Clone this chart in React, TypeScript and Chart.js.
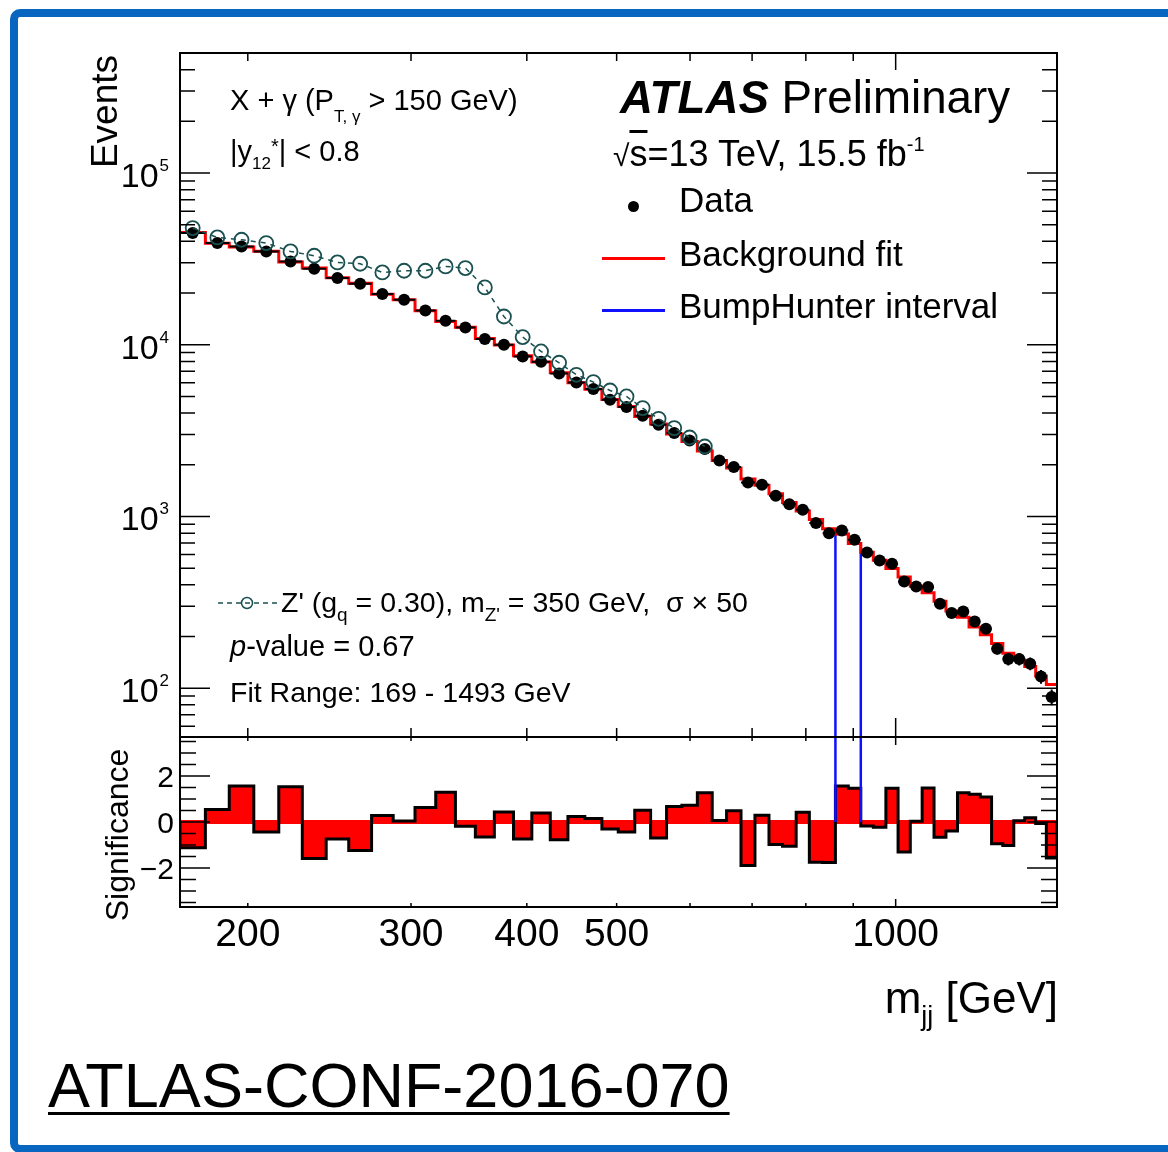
import React, { useEffect, useRef } from "react";
import { Chart, registerables } from "chart.js";

Chart.register(...registerables);

const FONT = '"Liberation Sans", Arial, Helvetica, sans-serif';

// ---------------- data ----------------
const binEdges = [
  169, 180, 191, 203, 216, 229, 243, 257, 272, 287, 303, 319, 335, 352, 369, 387, 405, 424, 443, 462,
  482, 502, 523, 544, 566, 588, 611, 634, 657, 681, 705, 730, 755, 781, 807, 834, 861, 889, 917, 946,
  976, 1006, 1037, 1068, 1100, 1133, 1166, 1200, 1234, 1269, 1305, 1341, 1378, 1416, 1454, 1493,
];

const dataEvents = [
  44740, 39110, 37370, 34950, 30560, 27710, 24460, 22660, 19740, 18290, 15840, 13800, 12610, 10800,
  10000, 8550, 7960, 6813, 6031, 5521, 4783, 4337, 3859, 3421, 3060, 2771, 2469, 2119, 1940, 1578,
  1530, 1320, 1178, 1094, 915, 800, 829, 732, 617, 554, 530, 418, 391, 388, 310, 274, 280, 245, 222,
  170, 148, 148, 139, 117, 89,
];

const fitEvents = [
  44980, 39000, 37070, 35030, 30290, 27980, 24580, 22850, 19700, 18285, 15760, 13650, 12630, 10870,
  9956, 8618, 7925, 6877, 6012, 5510, 4804, 4366, 3827, 3462, 3022, 2733, 2406, 2116, 1918, 1653,
  1519, 1356, 1205, 1078, 962, 848, 790, 697, 620, 557, 498, 445, 392, 360, 321, 282, 259, 227, 205,
  182, 160, 146, 134, 118, 105,
];

// Z' (gq = 0.30), m = 350 GeV, sigma x 50  (first 27 bins)
const signalEvents = [
  47830, 42160, 40880, 39110, 34950, 32990, 30150, 29630, 26370, 26980, 26980, 28580, 27970, 21570,
  14610, 11090, 9141, 7855, 6687, 6064, 5417, 5000, 4280, 3707, 3272, 2885, 2557,
];

const significance = [
  -1.12, 0.54, 1.57, -0.44, 1.53, -1.59, -0.74, -1.24, 0.28, 0.04, 0.63, 1.3, -0.19, -0.65, 0.44,
  -0.74, 0.39, -0.77, 0.24, 0.15, -0.31, -0.44, 0.51, -0.7, 0.68, 0.73, 1.27, 0.07, 0.49, -1.89,
  0.29, -0.98, -1.06, 0.42, -1.75, -1.76, 1.57, 1.47, -0.17, -0.23, 1.47, -1.31, 0.03, 1.48, -0.66,
  -0.39, 1.27, 1.21, 1.09, -0.95, -1.02, 0.05, 0.19, -0.07, -1.57,
];

const bumpInterval = [861, 917];

const xTickLabels = [200, 300, 400, 500, 1000];
const xTickMarks = [200, 300, 400, 500, 600, 700, 800, 900, 1000];
const yDecades = [100, 1000, 10000, 100000];
const sigTickLabels = [-2, 0, 2];

// ---------------- layout / style ----------------
const X_MIN = 169;
const X_MAX = 1493;
const Y_MIN = 52;
const Y_MAX = 5e5;
const S_MIN = -3.7;
const S_MAX = 3.7;

const PAGE_W = 1168;
const PAGE_H = 1152;
const AREA = { left: 180, right: 1057, top: 53, mid: 737, bottom: 907 };
const MAIN_H = 760;
const SIG_TOP = 700;
const SIG_H = 300;

const TEAL = "#1a5050";
const RED = "#ff0000";
const BLUE = "#1010ff";

const center = (i: number) => Math.sqrt(binEdges[i] * binEdges[i + 1]);

function stepPoints(values: number[]) {
  const pts: { x: number; y: number }[] = [];
  values.forEach((v, i) => {
    pts.push({ x: binEdges[i], y: v });
    pts.push({ x: binEdges[i + 1], y: v });
  });
  return pts;
}

const mainAxesPlugin = {
  id: "mainAxes",
  afterDraw(chart: any) {
    const { ctx, chartArea: a } = chart;
    const xs = chart.scales.x;
    const ys = chart.scales.y;
    ctx.save();
    ctx.strokeStyle = "#000";
    ctx.lineWidth = 1.5;
    ctx.beginPath();
    for (const t of xTickMarks) {
      const px = xs.getPixelForValue(t);
      const major = t === 1000;
      ctx.moveTo(px, a.top);
      ctx.lineTo(px, a.top + (major ? 17 : 8));
      ctx.moveTo(px, a.bottom);
      ctx.lineTo(px, a.bottom - (major ? 19 : 9));
    }
    for (const d of [10, ...yDecades]) {
      for (let k = 1; k <= 9; k++) {
        const v = k * d;
        if (v <= Y_MIN || v >= Y_MAX) continue;
        const py = ys.getPixelForValue(v);
        const len = k === 1 ? 30 : 15;
        ctx.moveTo(a.left, py);
        ctx.lineTo(a.left + len, py);
        ctx.moveTo(a.right, py);
        ctx.lineTo(a.right - len, py);
      }
    }
    ctx.stroke();
    ctx.lineWidth = 2;
    ctx.strokeRect(a.left, a.top, a.right - a.left, a.bottom - a.top);

    // y tick labels 10^n
    ctx.fillStyle = "#000";
    ctx.textBaseline = "alphabetic";
    ctx.textAlign = "right";
    for (const d of yDecades) {
      const py = ys.getPixelForValue(d);
      const exp = String(Math.round(Math.log10(d)));
      ctx.font = `17px ${FONT}`;
      const sw = ctx.measureText(exp).width;
      ctx.fillText(exp, a.left - 11, py - 2);
      ctx.font = `34px ${FONT}`;
      ctx.fillText("10", a.left - 11 - sw - 1, py + 14);
    }

    // legend markers
    ctx.fillStyle = "#000";
    ctx.beginPath();
    ctx.arc(633.5, 206.5, 5.5, 0, Math.PI * 2);
    ctx.fill();
    ctx.lineWidth = 3;
    ctx.strokeStyle = RED;
    ctx.beginPath();
    ctx.moveTo(602, 258.5);
    ctx.lineTo(665, 258.5);
    ctx.stroke();
    ctx.strokeStyle = BLUE;
    ctx.beginPath();
    ctx.moveTo(602, 310.5);
    ctx.lineTo(665, 310.5);
    ctx.stroke();
    // Z' legend sample
    ctx.strokeStyle = TEAL;
    ctx.lineWidth = 1.5;
    ctx.setLineDash([5, 4]);
    ctx.beginPath();
    ctx.moveTo(218, 603);
    ctx.lineTo(277, 603);
    ctx.stroke();
    ctx.setLineDash([]);
    ctx.beginPath();
    ctx.arc(247, 603, 5.5, 0, Math.PI * 2);
    ctx.stroke();
    ctx.restore();
  },
};

const sigAxesPlugin = {
  id: "sigAxes",
  afterDraw(chart: any) {
    const { ctx, chartArea: a } = chart;
    const xs = chart.scales.x;
    const ys = chart.scales.y;
    ctx.save();
    ctx.strokeStyle = "#000";
    ctx.lineWidth = 1.5;
    ctx.beginPath();
    for (const t of xTickMarks) {
      const px = xs.getPixelForValue(t);
      const major = t === 1000;
      ctx.moveTo(px, a.top);
      ctx.lineTo(px, a.top + (major ? 8 : 4));
      ctx.moveTo(px, a.bottom);
      ctx.lineTo(px, a.bottom - (major ? 8 : 4));
    }
    for (let i = -7; i <= 7; i++) {
      const v = i * 0.5;
      const py = ys.getPixelForValue(v);
      const len = sigTickLabels.includes(v) ? 30 : 16;
      ctx.moveTo(a.left, py);
      ctx.lineTo(a.left + len, py);
      ctx.moveTo(a.right, py);
      ctx.lineTo(a.right - len, py);
    }
    ctx.stroke();
    ctx.lineWidth = 2;
    ctx.strokeRect(a.left, a.top, a.right - a.left, a.bottom - a.top);

    ctx.fillStyle = "#000";
    ctx.textBaseline = "alphabetic";
    ctx.textAlign = "right";
    ctx.font = `30px ${FONT}`;
    for (const v of sigTickLabels) {
      const py = ys.getPixelForValue(v);
      const txt = v < 0 ? "\u2212" + Math.abs(v) : String(v);
      ctx.fillText(txt, a.left - 6, py + 11);
    }
    ctx.textAlign = "center";
    ctx.font = `39px ${FONT}`;
    for (const t of xTickLabels) {
      const px = xs.getPixelForValue(t);
      ctx.fillText(String(t), px, a.bottom + 39);
    }
    ctx.restore();
  },
};

function baseOptions(padding: any, yScale: any) {
  return {
    animation: false,
    responsive: false,
    devicePixelRatio: 1,
    events: [],
    layout: { padding },
    plugins: {
      legend: { display: false },
      tooltip: { enabled: false },
      title: { display: false },
    },
    scales: {
      x: { type: "logarithmic", min: X_MIN, max: X_MAX, display: false },
      y: yScale,
    },
  };
}

function MainChart() {
  const ref = useRef<HTMLCanvasElement | null>(null);
  useEffect(() => {
    if (!ref.current) return;
    const i0 = binEdges.indexOf(bumpInterval[0]);
    const i1 = binEdges.indexOf(bumpInterval[1]);
    const bumpPts: any[] = [{ x: binEdges[i0], y: Y_MIN }];
    for (let k = i0; k < i1; k++) {
      bumpPts.push({ x: binEdges[k], y: fitEvents[k] });
      bumpPts.push({ x: binEdges[k + 1], y: fitEvents[k] });
    }
    bumpPts.push({ x: binEdges[i1], y: Y_MIN });

    const errPts: any[] = [];
    dataEvents.forEach((v, i) => {
      const c = center(i);
      const e = Math.sqrt(v);
      errPts.push({ x: binEdges[i], y: v }, { x: binEdges[i + 1], y: v }, { x: c, y: null });
      errPts.push({ x: c, y: v - e }, { x: c, y: v + e }, { x: c, y: null });
    });

    const chart = new Chart(ref.current, {
      type: "line",
      data: {
        datasets: [
          {
            label: "Z' signal",
            data: signalEvents.map((v, i) => ({ x: center(i), y: v })),
            borderColor: TEAL,
            borderWidth: 1.5,
            borderDash: [5, 5],
            pointRadius: 7,
            pointBorderWidth: 1.8,
            pointBorderColor: TEAL,
            pointBackgroundColor: "rgba(0,0,0,0)",
            fill: false,
            order: 0,
          },
          {
            label: "Data",
            data: dataEvents.map((v, i) => ({ x: center(i), y: v })),
            showLine: false,
            pointRadius: 6,
            pointBorderWidth: 0,
            pointBackgroundColor: "#000",
            pointBorderColor: "#000",
            clip: 8,
            order: 1,
          },
          {
            label: "Data errors",
            data: errPts,
            borderColor: "#000",
            borderWidth: 2,
            pointRadius: 0,
            spanGaps: false,
            order: 2,
          },
          {
            label: "Background fit",
            data: stepPoints(fitEvents),
            borderColor: RED,
            borderWidth: 3,
            borderJoinStyle: "miter",
            pointRadius: 0,
            fill: false,
            order: 3,
          },
          {
            label: "BumpHunter interval",
            data: bumpPts,
            borderColor: BLUE,
            borderWidth: 2.5,
            pointRadius: 0,
            fill: false,
            order: 4,
          },
        ],
      },
      options: baseOptions(
        { left: AREA.left, right: PAGE_W - AREA.right, top: AREA.top, bottom: MAIN_H - AREA.mid },
        { type: "logarithmic", min: Y_MIN, max: Y_MAX, display: false }
      ) as any,
      plugins: [mainAxesPlugin],
    } as any);
    return () => chart.destroy();
  }, []);
  return (
    <canvas
      ref={ref}
      width={PAGE_W}
      height={MAIN_H}
      style={{ position: "absolute", left: 0, top: 0, width: PAGE_W, height: MAIN_H }}
    />
  );
}

function SigChart() {
  const ref = useRef<HTMLCanvasElement | null>(null);
  useEffect(() => {
    if (!ref.current) return;
    const [e0, e1] = bumpInterval;
    const chart = new Chart(ref.current, {
      type: "line",
      data: {
        datasets: [
          {
            label: "BumpHunter interval",
            data: [
              { x: e0, y: S_MAX },
              { x: e0, y: 0 },
              { x: e0, y: null },
              { x: e1, y: 0 },
              { x: e1, y: S_MAX },
            ],
            borderColor: BLUE,
            borderWidth: 2.5,
            pointRadius: 0,
            spanGaps: false,
            fill: false,
            order: 0,
          },
          {
            label: "Significance",
            data: [{ x: X_MIN, y: 0 }, ...stepPoints(significance), { x: X_MAX, y: 0 }],
            borderColor: "#000",
            borderWidth: 3,
            borderJoinStyle: "miter",
            backgroundColor: RED,
            fill: "origin",
            pointRadius: 0,
            order: 1,
          },
          {
            label: "zero",
            data: [
              { x: X_MIN, y: 0 },
              { x: X_MAX, y: 0 },
            ],
            borderColor: RED,
            borderWidth: 4,
            pointRadius: 0,
            fill: false,
            order: 2,
          },
        ],
      },
      options: baseOptions(
        {
          left: AREA.left,
          right: PAGE_W - AREA.right,
          top: AREA.mid - SIG_TOP,
          bottom: SIG_H - (AREA.bottom - SIG_TOP),
        },
        { type: "linear", min: S_MIN, max: S_MAX, display: false }
      ) as any,
      plugins: [sigAxesPlugin],
    } as any);
    return () => chart.destroy();
  }, []);
  return (
    <canvas
      ref={ref}
      width={PAGE_W}
      height={SIG_H}
      style={{ position: "absolute", left: 0, top: SIG_TOP, width: PAGE_W, height: SIG_H }}
    />
  );
}

// ---------------- text helpers ----------------
function Txt(props: {
  x: number;
  base: number;
  size: number;
  align?: "left" | "right";
  style?: any;
  children: any;
}) {
  const { x, base, size, align = "left", style = {}, children } = props;
  const pos: any = align === "left" ? { left: x } : { right: PAGE_W - x };
  return (
    <div
      style={{
        position: "absolute",
        ...pos,
        top: base - 0.8465 * size,
        fontSize: size,
        lineHeight: `${size}px`,
        fontFamily: FONT,
        whiteSpace: "nowrap",
        color: "#000",
        ...style,
      }}
    >
      {children}
    </div>
  );
}

function Shift(props: { size: number; dy: number; children: any }) {
  return (
    <span
      style={{
        fontSize: props.size,
        position: "relative",
        top: props.dy,
        lineHeight: 0,
        verticalAlign: "baseline",
      }}
    >
      {props.children}
    </span>
  );
}

function Rotated(props: { baseX: number; y: number; size: number; mode: "end" | "center"; text: string }) {
  const { baseX, y, size, mode, text } = props;
  const boxW = 400;
  const top = mode === "end" ? y + boxW : y + boxW / 2;
  return (
    <div
      style={{
        position: "absolute",
        left: baseX - 0.8465 * size,
        top,
        width: boxW,
        fontSize: size,
        lineHeight: `${size}px`,
        fontFamily: FONT,
        whiteSpace: "nowrap",
        textAlign: mode === "end" ? "right" : "center",
        transformOrigin: "0 0",
        transform: "rotate(-90deg)",
        color: "#000",
      }}
    >
      {text}
    </div>
  );
}

export default function App() {
  return (
    <div
      style={{
        position: "absolute",
        left: 0,
        top: 0,
        width: PAGE_W,
        height: PAGE_H,
        overflow: "hidden",
        background: "#fff",
      }}
    >
      <div
        style={{
          position: "absolute",
          left: 10,
          top: 9,
          width: 1400,
          height: 1144,
          boxSizing: "border-box",
          border: "8px solid #0866c0",
          borderRadius: 10,
        }}
      />
      <MainChart />
      <SigChart />

      {/* axis titles */}
      <Rotated baseX={117} y={AREA.top + 2} size={37} mode="end" text="Events" />
      <Rotated baseX={128} y={835} size={32} mode="center" text="Significance" />
      <Txt x={1058} base={1013} size={44}>
        {""}
      </Txt>
      <Txt x={1058} base={1013} size={44} align="right">
        m<Shift size={27} dy={12}>jj</Shift> [GeV]
      </Txt>

      {/* top-left labels */}
      <Txt x={230} base={111} size={29}>
        X + γ (P<Shift size={17} dy={12}>T, γ</Shift> &gt; 150 GeV)
      </Txt>
      <Txt x={230} base={162} size={29}>
        |y<Shift size={17} dy={8}>12</Shift>
        <Shift size={20} dy={-8}>*</Shift>| &lt; 0.8
      </Txt>

      {/* ATLAS label + legend */}
      <Txt x={620} base={113.5} size={45.7}>
        <span style={{ fontWeight: 700, fontStyle: "italic" }}>ATLAS</span> Preliminary
      </Txt>
      <Txt x={613} base={166.5} size={36}>
        <span style={{ fontSize: 30 }}>√</span>
        <span style={{ textDecoration: "overline" }}>s</span>=13 TeV, 15.5 fb
        <Shift size={20} dy={-15}>-1</Shift>
      </Txt>
      <Txt x={679} base={212} size={35}>
        Data
      </Txt>
      <Txt x={679} base={265.5} size={35}>
        Background fit
      </Txt>
      <Txt x={679} base={317.5} size={35}>
        BumpHunter interval
      </Txt>

      {/* bottom-left labels */}
      <Txt x={281} base={612} size={28.5}>
        Z' (g<Shift size={19} dy={9}>q</Shift> = 0.30), m<Shift size={19} dy={9}>Z'</Shift> = 350 GeV,{"\u00a0\u00a0"}σ × 50
      </Txt>
      <Txt x={230} base={657} size={29}>
        <i>p</i>-value = 0.67
      </Txt>
      <Txt x={230} base={702} size={28.5}>
        Fit Range: 169 - 1493 GeV
      </Txt>

      <Txt
        x={48}
        base={1107}
        size={63}
        style={{
          textDecoration: "underline",
          textDecorationThickness: "3px",
          textUnderlineOffset: "5px",
        }}
      >
        ATLAS-CONF-2016-070
      </Txt>
    </div>
  );
}
